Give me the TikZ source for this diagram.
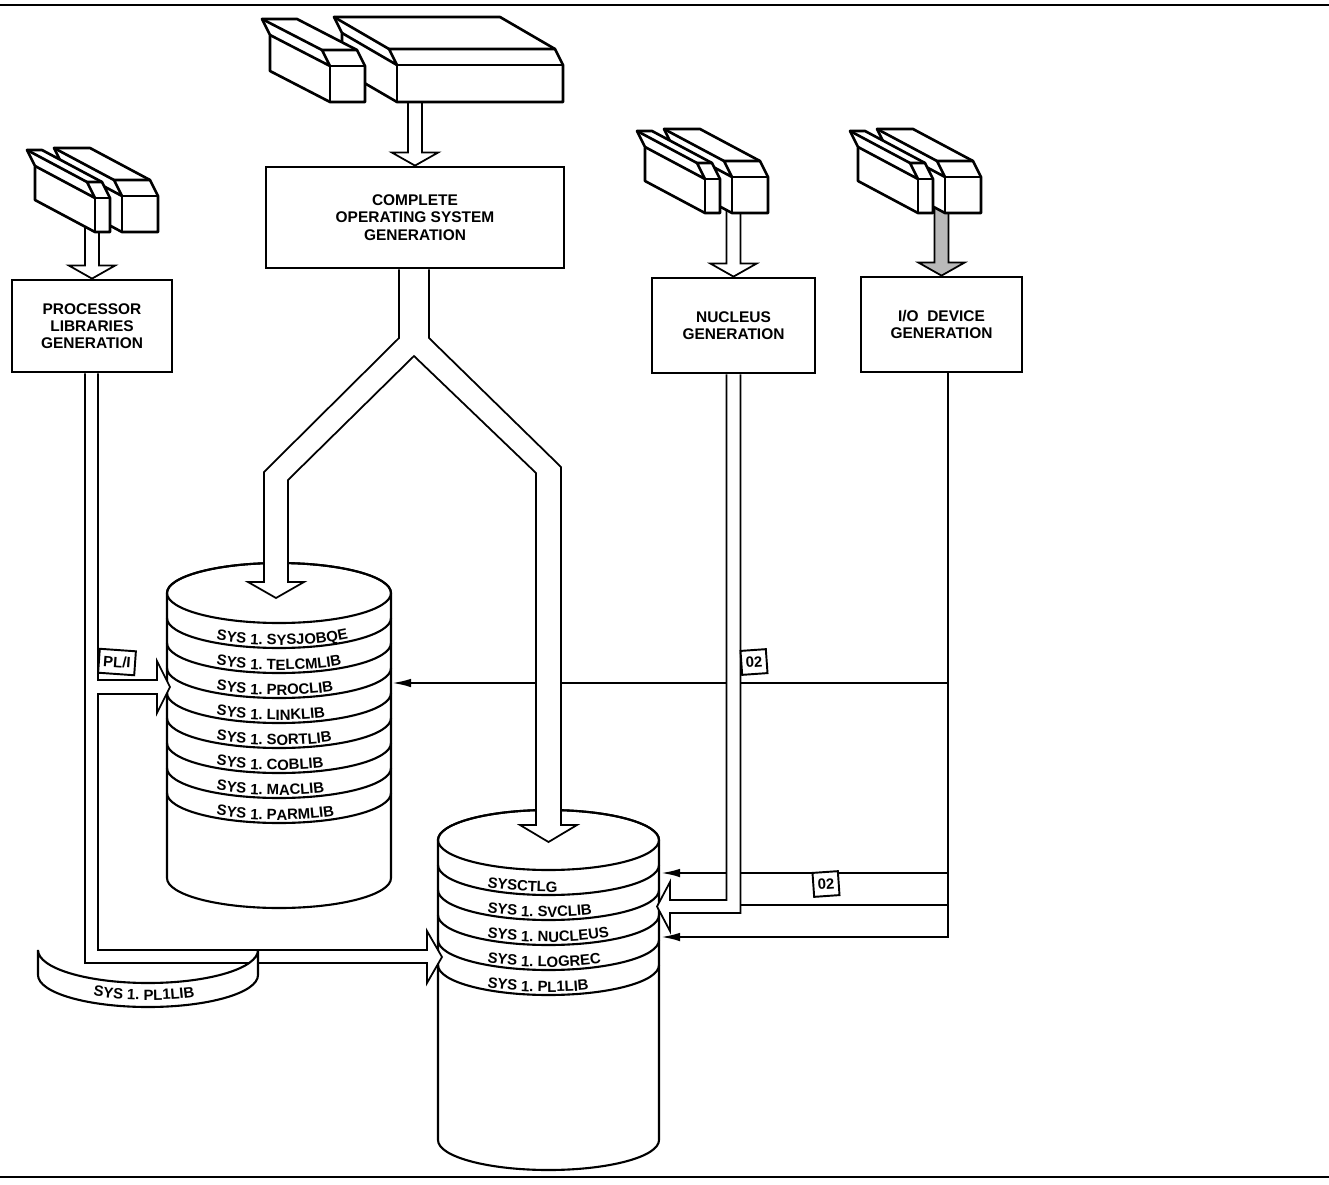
\documentclass[tikz,border=0pt]{standalone}
\usepackage{fontspec}
\setmainfont{Liberation Sans}
\usetikzlibrary{arrows.meta,calc,decorations.text}

\newcommand{\labelfont}{\fontsize{8.5}{9}\selectfont\bfseries}

\tikzset{
  frame/.style={line width=1.2pt},
  genbox/.style={draw, line width=1.6pt, fill=white, align=center, inner sep=0pt, font=\fontsize{8.8}{9.8}\selectfont\bfseries},
  deckline/.style={line width=1.5pt, line join=round},
  pipe/.style={line width=1pt, line join=miter},
  diskline/.style={line width=1.2pt},
  wire/.style={line width=1.5pt},
  feed/.style={wire, -{Latex[length=4mm, width=1.7mm]}},
  tag/.style={draw, line width=1.1pt, fill=white, inner xsep=2.5pt, inner ysep=1.5pt, minimum height=0.48cm, font=\labelfont},
}

% card deck: front face x #1..#2, top #3, bottom #4, depth (#5,#6)
\newcommand{\carddeck}[6]{%
  \draw[deckline, fill=white] (#1,#4) -- ++(#5,#6) -- ({#1+(#5)},{#3+16+(#6)}) -- ({#1-8+(#5)},{#3+(#6)})
    -- ({#2-8+(#5)},{#3+(#6)}) -- ({#2-8},#3) -- (#2,{#3+16}) -- (#2,#4) -- cycle;
  \draw[deckline] (#1,{#3+16}) rectangle (#2,#4);
  \draw[deckline] ({#1+(#5)},{#3+16+(#6)}) -- (#1,{#3+16}) -- ({#1-8},#3) -- ({#2-8},#3);
  \draw[deckline] ({#1-8},#3) -- ++(#5,#6);
}

% hollow arrow from a deck down to a box
\newcommand{\feedarrow}[2][white]{%
  \draw[pipe, fill=#1] ($(#2.north)+(-7,-80)$) -- ($(#2.north)+(-7,-13)$) -- ($(#2.north)+(-23,-13)$) -- (#2.north)
    -- ($(#2.north)+(23,-13)$) -- ($(#2.north)+(7,-13)$) -- ($(#2.north)+(7,-80)$);
}

% disk pack: centre x #1, radius #2, top #3, bottom #4, #5 bands
\newcommand{\diskpack}[5]{%
  \draw[diskline, fill=white] ({#1-#2},#3) -- ({#1-#2},#4) arc[start angle=180, end angle=0, x radius=#2, y radius=30]
    -- ({#1+#2},#3) arc[start angle=0, end angle=-180, x radius=#2, y radius=30] -- cycle;
  \draw[diskline] (#1,#3) ellipse[x radius=#2, y radius=30];
  \foreach \k in {1,...,#5}
    \draw[diskline] ({#1-#2},{#3+25*\k}) arc[start angle=180, end angle=0, x radius=#2, y radius=30];
}

% data set name bent along a band
\newcommand{\packlabel}[4]{%
  \path[decorate, decoration={text along path, text align={left indent=1.16cm}, text={|\labelfont|#4}}]
    ({#1-#2},#3) arc[start angle=180, end angle=0, x radius=#2, y radius=30];
}

\begin{document}
\begin{tikzpicture}[x=0.02cm, y=-0.02cm]
\useasboundingbox (0,0) rectangle (1329,1184);
\draw[frame] (0,5) -- (1329,5);
\draw[frame] (0,1177) -- (1329,1177);

% generation steps
\node[genbox, minimum width=5.96cm, minimum height=2.02cm] (cosgen) at (415,217.5) {COMPLETE\\OPERATING SYSTEM\\GENERATION};
\node[genbox, minimum width=3.2cm, minimum height=1.84cm] (plgen) at (92,326) {PROCESSOR\\LIBRARIES\\GENERATION};
\node[genbox, minimum width=3.26cm, minimum height=1.9cm] (nucgen) at (733.5,325.5) {NUCLEUS\\GENERATION};
\node[genbox, minimum width=3.22cm, minimum height=1.9cm] (iogen) at (941.5,324.5) {I/O\ \ DEVICE\\GENERATION};

\feedarrow{cosgen}
\feedarrow{plgen}
\feedarrow{nucgen}
\feedarrow[gray!55]{iogen}

% input decks
\carddeck{397}{563}{49}{102}{-55}{-32}
\carddeck{330}{365}{50}{102}{-60}{-31}
\carddeck{122}{158}{180}{232}{-60}{-32}
\carddeck{95}{110}{182}{232}{-60}{-32}
\carddeck{732}{768}{161}{213}{-60}{-32}
\carddeck{705}{720}{163}{213}{-60}{-32}
\carddeck{945}{981}{161}{213}{-60}{-32}
\carddeck{918}{933}{163}{213}{-60}{-32}

% I/O device lines
\coordinate (io) at ($(iogen.south)+(6.5,0)$);
\draw[feed] (io) |- (660,937);
\draw[feed] (948,683) -- (391,683);
\draw[feed] (948,873) -- (660,873);
\draw[wire] (948,905) -- (741,905);

% disk packs
\diskpack{279}{112}{593}{878}{8}
\diskpack{548.5}{110.5}{840}{1140}{5}
\packlabel{279}{112}{615}{SYS 1. SYSJOBQE}
\packlabel{279}{112}{640}{SYS 1. TELCMLIB}
\packlabel{279}{112}{665}{SYS 1. PROCLIB}
\packlabel{279}{112}{690}{SYS 1. LINKLIB}
\packlabel{279}{112}{715}{SYS 1. SORTLIB}
\packlabel{279}{112}{740}{SYS 1. COBLIB}
\packlabel{279}{112}{765}{SYS 1. MACLIB}
\packlabel{279}{112}{790}{SYS 1. PARMLIB}
\packlabel{548.5}{110.5}{862}{SYSCTLG}
\packlabel{548.5}{110.5}{887}{SYS 1. SVCLIB}
\packlabel{548.5}{110.5}{912}{SYS 1. NUCLEUS}
\packlabel{548.5}{110.5}{937}{SYS 1. LOGREC}
\packlabel{548.5}{110.5}{962}{SYS 1. PL1LIB}

% processor libraries
\draw[pipe, fill=white] ($(plgen.south)+(-7,0)$) -- (85,963) -- (427,963) -- (427,983) -- (442,957) -- (427,931)
  -- (427,950) -- (98,950) -- (98,694) -- (157,694) -- (157,713) -- (170,687) -- (157,661) -- (157,680)
  -- (98,680) -- ($(plgen.south)+(6,0)$);

% complete system split
\draw[pipe, fill=white] ($(cosgen.south)+(-16,0)$) -- (399,338) -- (264,472) -- (264,582) -- (248,582) -- (276,598)
  -- (304,582) -- (288,582) -- (288,480) -- (414,356) -- (536,473) -- (536,825) -- (520,825) -- (548.5,842)
  -- (577,825) -- (561,825) -- (561,467) -- (429,338) -- ($(cosgen.south)+(14,0)$);

% nucleus
\draw[pipe, fill=white] ($(nucgen.south)+(-7,0)$) -- (726.5,900) -- (670,900) -- (670,882) -- (657,906.5)
  -- (670,931) -- (670,913) -- (740.5,913) -- ($(nucgen.south)+(7,0)$);

% PL/I library piece
\draw[diskline, fill=white] (38,950) arc[start angle=180, end angle=0, x radius=110, y radius=33]
  -- (258,975) arc[start angle=0, end angle=180, x radius=110, y radius=32] -- cycle;
\path[decorate, decoration={text along path, text align={left indent=1.3cm}, text={|\labelfont|SYS 1. PL1LIB}}]
  (38,968) arc[start angle=180, end angle=0, x radius=110, y radius=32];

\node[tag, rotate=-4] (pltag) at (117,662) {PL/I};
\node[tag, rotate=4] (nuctag) at (754,662) {02};
\node[tag, rotate=4] (iotag) at (826,884) {02};
\end{tikzpicture}
\end{document}
